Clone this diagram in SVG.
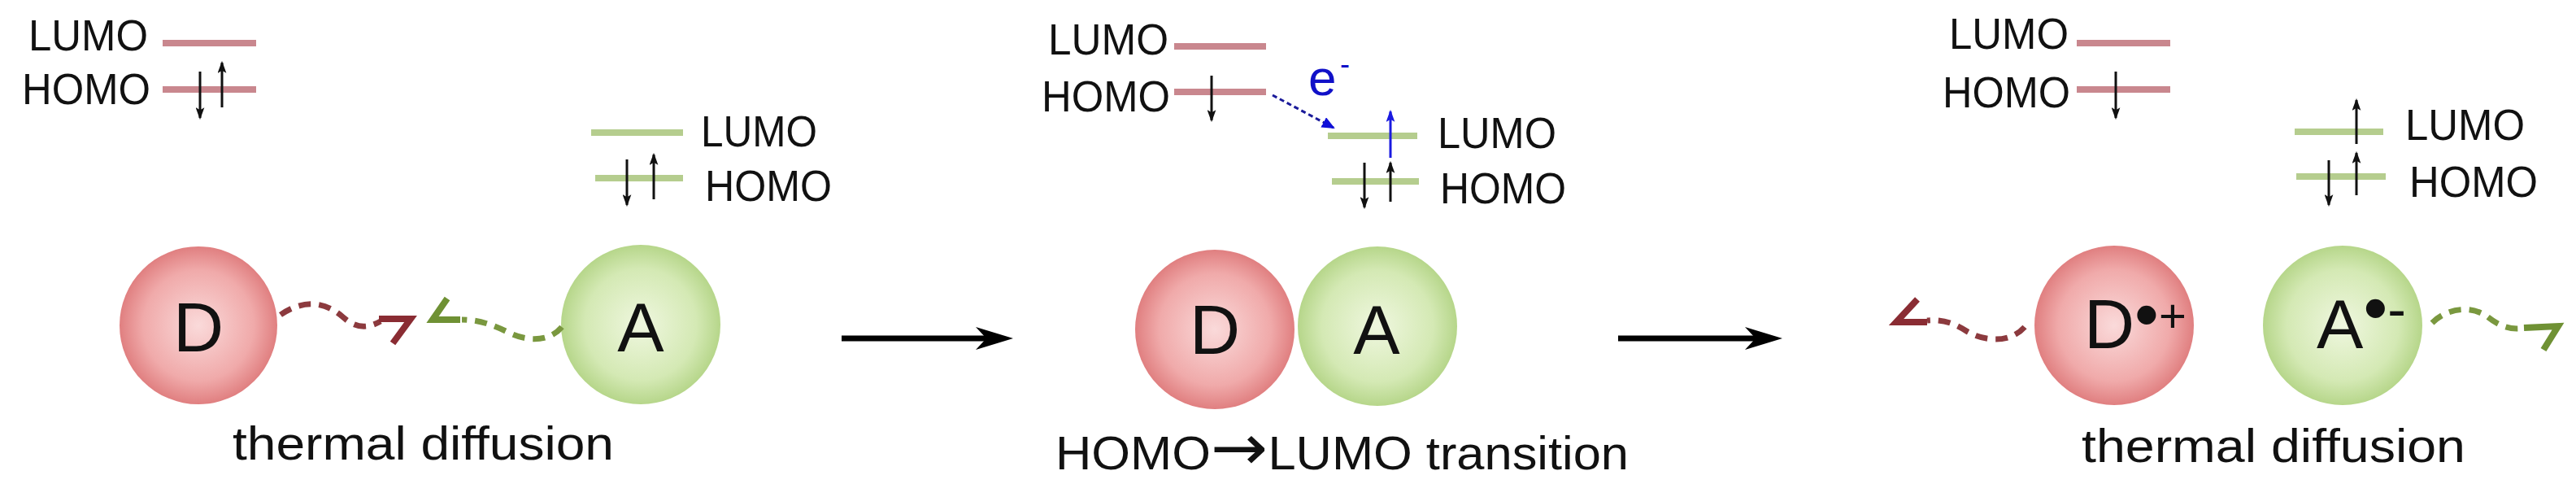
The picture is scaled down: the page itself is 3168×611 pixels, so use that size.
<svg xmlns="http://www.w3.org/2000/svg" width="3168" height="611" viewBox="0 0 3168 611">
<style>
.lbl{font-family:"Liberation Sans",Arial,sans-serif;font-size:53px;fill:#111}
.big{font-family:"Liberation Sans",Arial,sans-serif;font-size:86px;fill:#111}
.cap{font-family:"Liberation Sans",Arial,sans-serif;font-size:57px;fill:#111}
.lvR{stroke:#c9878e;stroke-width:8}
.lvG{stroke:#b5cd8e;stroke-width:8}
.spin{stroke:#111;stroke-width:3;fill:none;marker-end:url(#ah)}
.spinB{stroke:#1a1ae0;stroke-width:3;fill:none;marker-end:url(#ahB)}
.dR{stroke:#8c3a3e;stroke-width:7;fill:none;stroke-dasharray:15 10}
.dG{stroke:#7a983f;stroke-width:7;fill:none;stroke-dasharray:15 10}
.hR{stroke:#8a2c33;stroke-width:8;fill:none;stroke-linejoin:miter}
.hG{stroke:#6f9134;stroke-width:8;fill:none;stroke-linejoin:miter}
.main{stroke:#000;stroke-width:7;fill:none}
</style>
<defs>
<radialGradient id="gR" cx="0.5" cy="0.5" r="0.5">
<stop offset="0" stop-color="#fadada"/>
<stop offset="0.7" stop-color="#f0aaaa"/>
<stop offset="1" stop-color="#e07f80"/>
</radialGradient>
<radialGradient id="gG" cx="0.5" cy="0.5" r="0.5">
<stop offset="0" stop-color="#eff7df"/>
<stop offset="0.7" stop-color="#d4e9b4"/>
<stop offset="1" stop-color="#b6d68a"/>
</radialGradient>
<marker id="ah" viewBox="0 0 14 10" refX="12" refY="5" markerWidth="15" markerHeight="11" markerUnits="userSpaceOnUse" orient="auto">
<path d="M0,0 L14,5 L0,10 L3,5 z" fill="#111"/>
</marker>
<marker id="ahB" viewBox="0 0 14 10" refX="12" refY="5" markerWidth="15" markerHeight="11" markerUnits="userSpaceOnUse" orient="auto">
<path d="M0,0 L14,5 L0,10 L3,5 z" fill="#1a1ae0"/>
</marker>
<marker id="ahE" viewBox="0 0 16 14" refX="14" refY="7" markerWidth="16" markerHeight="14" markerUnits="userSpaceOnUse" orient="auto">
<path d="M0,0 L16,7 L0,14 z" fill="#1010d8"/>
</marker>
</defs>
<rect width="3168" height="611" fill="#fff"/>

<!-- Panel 1 -->
<g id="p1-donor-levels">
<text class="lbl" x="35" y="62" textLength="147" lengthAdjust="spacingAndGlyphs">LUMO</text>
<text class="lbl" x="27" y="128" textLength="158" lengthAdjust="spacingAndGlyphs">HOMO</text>
<line class="lvR" x1="200" y1="53" x2="315" y2="53"/>
<line class="lvR" x1="200" y1="110" x2="315" y2="110"/>
<line class="spin" x1="246" y1="88" x2="246" y2="145"/>
<line class="spin" x1="273" y1="132" x2="273" y2="77"/>
</g>
<g id="p1-acceptor-levels">
<line class="lvG" x1="727" y1="163" x2="840" y2="163"/>
<line class="lvG" x1="732" y1="219" x2="840" y2="219"/>
<line class="spin" x1="771" y1="196" x2="771" y2="252"/>
<line class="spin" x1="804" y1="245" x2="804" y2="190"/>
<text class="lbl" x="862" y="180" textLength="143" lengthAdjust="spacingAndGlyphs">LUMO</text>
<text class="lbl" x="867" y="247" textLength="156" lengthAdjust="spacingAndGlyphs">HOMO</text>
</g>
<g id="p1-D">
<circle cx="244" cy="400" r="97" fill="url(#gR)"/>
<text class="big" x="244" y="432" text-anchor="middle">D</text>
</g>
<g id="p1-A">
<circle cx="788" cy="399" r="98" fill="url(#gG)"/>
<text class="big" x="788" y="432" text-anchor="middle">A</text>
</g>
<text id="p1-caption" class="cap" x="286" y="565" textLength="469" lengthAdjust="spacingAndGlyphs">thermal diffusion</text>

<!-- Panel 2 -->
<g id="p2-donor-levels">
<text class="lbl" x="1289" y="67" textLength="148" lengthAdjust="spacingAndGlyphs">LUMO</text>
<text class="lbl" x="1281" y="137" textLength="158" lengthAdjust="spacingAndGlyphs">HOMO</text>
<line class="lvR" x1="1444" y1="57" x2="1557" y2="57"/>
<line class="lvR" x1="1444" y1="113" x2="1557" y2="113"/>
<line class="spin" x1="1490" y1="93" x2="1490" y2="148"/>
</g>
<g id="p2-electron">
<text x="1609" y="117" font-family="Liberation Sans, Arial, sans-serif" font-size="62" fill="#1010c8">e<tspan x="1648" y="91" font-size="36">-</tspan></text>
</g>
<g id="p2-acceptor-levels">
<line class="lvG" x1="1633" y1="167" x2="1743" y2="167"/>
<line class="lvG" x1="1638" y1="223" x2="1745" y2="223"/>
<line class="spinB" x1="1710" y1="194" x2="1710" y2="137"/>
<line class="spin" x1="1710" y1="248" x2="1710" y2="200"/>
<line class="spin" x1="1678" y1="200" x2="1678" y2="255"/>
<text class="lbl" x="1768" y="182" textLength="146" lengthAdjust="spacingAndGlyphs">LUMO</text>
<text class="lbl" x="1771" y="250" textLength="155" lengthAdjust="spacingAndGlyphs">HOMO</text>
</g>
<g id="p2-A">
<circle cx="1694" cy="401" r="98" fill="url(#gG)"/>
<text class="big" x="1693" y="435" text-anchor="middle">A</text>
</g>
<g id="p2-D">
<circle cx="1494" cy="405" r="98" fill="url(#gR)"/>
<text class="big" x="1494" y="435" text-anchor="middle">D</text>
</g>
<text id="p2-caption" class="cap" x="1298" y="577" textLength="705" lengthAdjust="spacingAndGlyphs">HOMO<tspan font-family="DejaVu Sans, sans-serif" font-size="78">→</tspan>LUMO transition</text>

<!-- Panel 3 -->
<g id="p3-donor-levels">
<text class="lbl" x="2397" y="60" textLength="147" lengthAdjust="spacingAndGlyphs">LUMO</text>
<text class="lbl" x="2389" y="132" textLength="157" lengthAdjust="spacingAndGlyphs">HOMO</text>
<line class="lvR" x1="2554" y1="53" x2="2669" y2="53"/>
<line class="lvR" x1="2554" y1="110" x2="2669" y2="110"/>
<line class="spin" x1="2602" y1="88" x2="2602" y2="145"/>
</g>
<g id="p3-acceptor-levels">
<line class="lvG" x1="2822" y1="162" x2="2931" y2="162"/>
<line class="lvG" x1="2824" y1="217" x2="2934" y2="217"/>
<line class="spin" x1="2898" y1="177" x2="2898" y2="123"/>
<line class="spin" x1="2898" y1="240" x2="2898" y2="188"/>
<line class="spin" x1="2864" y1="197" x2="2864" y2="252"/>
<text class="lbl" x="2958" y="172" textLength="147" lengthAdjust="spacingAndGlyphs">LUMO</text>
<text class="lbl" x="2963" y="242" textLength="158" lengthAdjust="spacingAndGlyphs">HOMO</text>
</g>
<g id="p3-D">
<circle cx="2600" cy="400" r="98" fill="url(#gR)"/>
<text class="big" x="2563" y="428">D<tspan dy="-12" font-size="85">•</tspan><tspan dy="-8" font-size="58">+</tspan></text>
</g>
<g id="p3-A">
<circle cx="2881" cy="400" r="98" fill="url(#gG)"/>
<text class="big" x="2849" y="428">A<tspan dy="-20" font-size="85">•</tspan><tspan dy="-4" font-size="68">-</tspan></text>
</g>
<text id="p3-caption" class="cap" x="2560" y="568" textLength="472" lengthAdjust="spacingAndGlyphs">thermal diffusion</text>

<!-- Connectors -->
<g id="connectors">
<path class="dR" d="M345,387 C372,368 400,370 422,390 C438,404 452,404 468,395"/>
<path class="hR" d="M466,392 L505,392 L483,422"/>
<path class="dG" d="M691,402 C676,420 650,420 628,410 C608,400 590,393 568,393"/>
<path class="hG" d="M550,367 L532,393 L566,393"/>
<line class="main" x1="1035" y1="416" x2="1215" y2="416"/>
<path d="M1246,416 L1200,402 L1213,416 L1200,430 z" fill="#000"/>
<line class="main" x1="1990" y1="416" x2="2165" y2="416"/>
<path d="M2192,416 L2146,402 L2159,416 L2146,430 z" fill="#000"/>
<path d="M1565,117 L1640,157" stroke="#1a1a9a" stroke-width="3" stroke-dasharray="6 4" fill="none" marker-end="url(#ahE)"/>
<path class="dR" d="M2490,402 C2472,422 2442,420 2420,408 C2405,398 2390,392 2370,394"/>
<path class="hR" d="M2358,368 L2332,396 L2370,396"/>
<path class="dG" d="M2991,397 C3010,378 3040,375 3060,390 C3075,402 3090,406 3104,403"/>
<path class="hG" d="M3104,403 L3146,401 L3128,430"/>
</g>
</svg>
